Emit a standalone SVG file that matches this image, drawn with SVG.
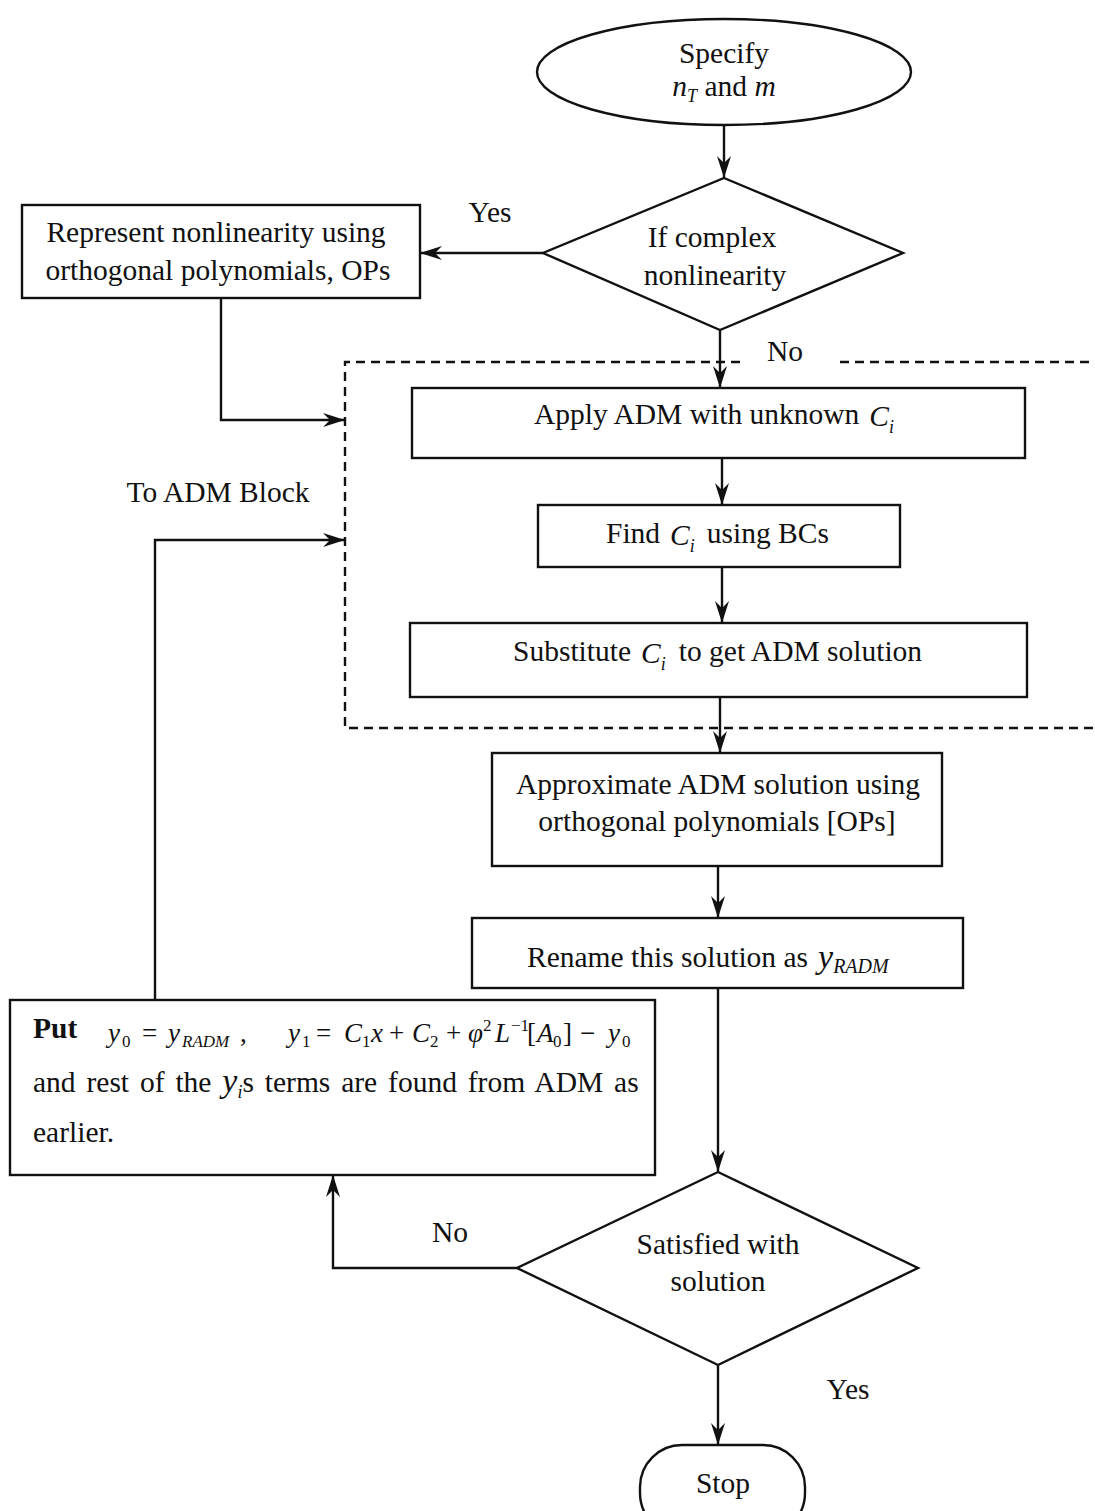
<svg xmlns="http://www.w3.org/2000/svg" width="1095" height="1511" viewBox="0 0 1095 1511">
  <style>
    .shape { fill: none; stroke: #111; stroke-width: 2.4; }
    .conn { fill: none; stroke: #111; stroke-width: 2.4; }
    .dash { fill: none; stroke: #111; stroke-width: 2.4; stroke-dasharray: 9 6; }
    text { font-family: "Liberation Serif", "Times New Roman", serif; font-size: 29.5px; fill: #111; }
    .c { text-anchor: middle; }
    .it { font-style: italic; }
    .sub { font-size: 18px; }
    .math { font-size: 27px; }
    .msub { font-size: 17px; }
  </style>
  <defs>
    <marker id="arrow" viewBox="0 0 22 14" refX="22" refY="7" markerWidth="22" markerHeight="14" markerUnits="userSpaceOnUse" orient="auto">
      <path d="M0,0 L22,7 L0,14 L7,7 z" fill="#111"/>
    </marker>
  </defs>
  <rect width="1095" height="1511" fill="#fff"/>

  <!-- ADM block boundary (open on the right) -->
  <g id="adm-block">
    <path class="dash" d="M740,362 H345 V728 H1095"/>
    <path class="dash" d="M840,362 H1095"/>
  </g>

  <g id="connectors">
    <line class="conn" x1="724" y1="125" x2="724" y2="178" marker-end="url(#arrow)"/>
    <line class="conn" x1="543" y1="253" x2="420" y2="253" marker-end="url(#arrow)"/>
    <polyline class="conn" points="221,298 221,420 345,420" marker-end="url(#arrow)"/>
    <line class="conn" x1="720" y1="330" x2="720" y2="388" marker-end="url(#arrow)"/>
    <line class="conn" x1="722" y1="458" x2="722" y2="505" marker-end="url(#arrow)"/>
    <line class="conn" x1="722" y1="567" x2="722" y2="623" marker-end="url(#arrow)"/>
    <line class="conn" x1="720" y1="697" x2="720" y2="753" marker-end="url(#arrow)"/>
    <line class="conn" x1="718" y1="866" x2="718" y2="918" marker-end="url(#arrow)"/>
    <line class="conn" x1="718" y1="988" x2="718" y2="1172" marker-end="url(#arrow)"/>
    <polyline class="conn" points="517,1268 333,1268 333,1175" marker-end="url(#arrow)"/>
    <polyline class="conn" points="155,1000 155,540 345,540" marker-end="url(#arrow)"/>
    <line class="conn" x1="718" y1="1365" x2="718" y2="1445" marker-end="url(#arrow)"/>
    <text x="490" y="222" class="c">Yes</text>
    <text x="785" y="361" class="c">No</text>
    <text x="218" y="502" class="c">To ADM Block</text>
    <text x="450" y="1242" class="c">No</text>
    <text x="848" y="1399" class="c">Yes</text>
  </g>

  <g id="start">
    <ellipse class="shape" cx="724" cy="72" rx="187" ry="53"/>
    <text x="724" y="63" class="c">Specify</text>
    <text x="724" y="96" class="c"><tspan class="it">n</tspan><tspan class="it sub" dy="6">T</tspan><tspan dy="-6"> and </tspan><tspan class="it">m</tspan></text>
  </g>

  <g id="decision-nonlinearity">
    <polygon class="shape" points="724,178 903,253 720,330 543,253"/>
    <text x="712" y="247" class="c">If complex</text>
    <text x="715" y="285" class="c">nonlinearity</text>
  </g>

  <g id="represent-ops">
    <rect class="shape" x="22" y="205" width="398" height="93"/>
    <text x="216" y="242" class="c">Represent nonlinearity using</text>
    <text x="218" y="280" class="c">orthogonal polynomials, OPs</text>
  </g>

  <g id="apply-adm">
    <rect class="shape" x="412" y="388" width="613" height="70"/>
    <text x="534" y="424">Apply ADM with unknown<tspan class="it" dx="10" dy="2">C</tspan><tspan class="it sub" dy="7">i</tspan></text>
  </g>

  <g id="find-ci">
    <rect class="shape" x="538" y="505" width="362" height="62"/>
    <text x="606" y="543">Find<tspan class="it" dx="10" dy="2">C</tspan><tspan class="it sub" dy="7">i</tspan><tspan dx="12" dy="-9">using BCs</tspan></text>
  </g>

  <g id="substitute-ci">
    <rect class="shape" x="410" y="623" width="617" height="74"/>
    <text x="513" y="661">Substitute<tspan class="it" dx="10" dy="2">C</tspan><tspan class="it sub" dy="7">i</tspan><tspan dx="13" dy="-9">to get ADM solution</tspan></text>
  </g>

  <g id="approximate-ops">
    <rect class="shape" x="492" y="753" width="450" height="113"/>
    <text x="718" y="794" class="c">Approximate ADM solution using</text>
    <text x="717" y="831" class="c">orthogonal polynomials [OPs]</text>
  </g>

  <g id="rename-radm">
    <rect class="shape" x="472" y="918" width="491" height="70"/>
    <text x="527" y="967">Rename this solution as<tspan class="it" font-size="34" dx="10" dy="1">y</tspan><tspan class="it" font-size="20" dy="5">RADM</tspan></text>
  </g>

  <g id="restart-terms">
    <rect class="shape" x="10" y="1000" width="645" height="175"/>
    <text x="33" y="1038" font-weight="bold" font-size="28">Put</text>
    <text y="1042" class="math">
      <tspan x="108" class="it">y</tspan><tspan x="122" y="1047" class="msub">0</tspan>
      <tspan x="142" y="1042">=</tspan>
      <tspan x="168" class="it">y</tspan><tspan x="182" y="1047" class="it msub">RADM</tspan>
      <tspan x="240" y="1042">,</tspan>
      <tspan x="288" class="it">y</tspan><tspan x="302" y="1047" class="msub">1</tspan>
      <tspan x="316" y="1042">=</tspan>
      <tspan x="344" class="it">C</tspan><tspan x="362" y="1047" class="msub">1</tspan>
      <tspan x="371" y="1042" class="it">x</tspan>
      <tspan x="389">+</tspan>
      <tspan x="412" class="it">C</tspan><tspan x="430" y="1047" class="msub">2</tspan>
      <tspan x="446" y="1042">+</tspan>
      <tspan x="468" class="it">φ</tspan><tspan x="483" y="1031" class="msub">2</tspan>
      <tspan x="495" y="1042" class="it">L</tspan><tspan x="511" y="1031" class="msub">−1</tspan>
      <tspan x="527" y="1042">[</tspan>
      <tspan x="537" class="it">A</tspan><tspan x="553" y="1047" class="msub">0</tspan>
      <tspan x="563" y="1042">]</tspan>
      <tspan x="580">−</tspan>
      <tspan x="608" class="it">y</tspan><tspan x="622" y="1047" class="msub">0</tspan>
    </text>
    <text x="33" y="1092" word-spacing="3.5">and rest of the <tspan class="it" font-size="34">y</tspan><tspan class="it sub" dy="6">i</tspan><tspan dy="-6">s terms are found from ADM as</tspan></text>
    <text x="33" y="1142">earlier.</text>
  </g>

  <g id="decision-satisfied">
    <polygon class="shape" points="718,1172 918,1268 718,1365 517,1268"/>
    <text x="718" y="1254" class="c">Satisfied with</text>
    <text x="718" y="1291" class="c">solution</text>
  </g>

  <g id="stop">
    <rect class="shape" x="640" y="1445" width="165" height="90" rx="42"/>
    <text x="723" y="1493" class="c">Stop</text>
  </g>
</svg>
